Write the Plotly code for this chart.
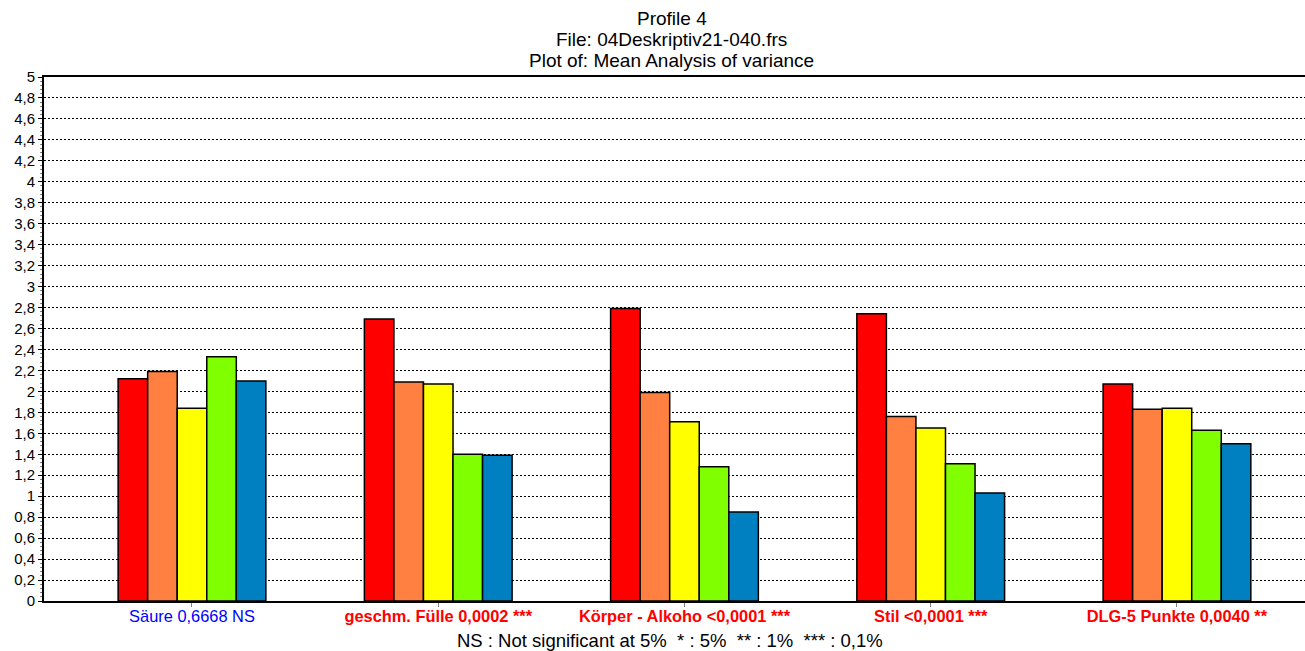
import plotly.graph_objects as go

# Attribute groups with their ANOVA p-values and significance
categories = ["Säure 0,6668 NS", "geschm. Fülle 0,0002 ***",
              "Körper - Alkoho <0,0001 ***", "Stil <0,0001 ***",
              "DLG-5 Punkte 0,0040 **"]
significant = [False, True, True, True, True]

# Mean score for each of the five products per attribute
series_names = ["Produkt 1", "Produkt 2", "Produkt 3", "Produkt 4", "Produkt 5"]
prod1 = [2.12, 2.69, 2.79, 2.74, 2.07]
prod2 = [2.19, 2.09, 1.99, 1.76, 1.83]
prod3 = [1.84, 2.07, 1.71, 1.65, 1.84]
prod4 = [2.33, 1.40, 1.28, 1.31, 1.63]
prod5 = [2.10, 1.39, 0.85, 1.03, 1.50]
series_values = [prod1, prod2, prod3, prod4, prod5]
colors = ["#FF0000", "#FF8040", "#FFFF00", "#80FF00", "#0080C0"]

title_lines = ["Profile 4", "File: 04Deskriptiv21-040.frs",
               "Plot of: Mean Analysis of variance"]
footnote = "NS : Not significant at 5%  * : 5%  ** : 1%  *** : 0,1%"

FONT = "Liberation Sans, Arial, sans-serif"
W, H = 1305, 651
M_L, M_R, M_T, M_B = 44, 0, 77, 50
plot_h = H - M_T - M_B


def paper_y(px):
    """Convert a pixel row (from the top) to paper y coordinates."""
    return (H - M_B - px) / plot_h


xpos = list(range(len(categories)))
fig = go.Figure()
for name, vals, col in zip(series_names, series_values, colors):
    fig.add_trace(go.Bar(
        x=xpos, y=vals, name=name,
        marker=dict(color=col, line=dict(color="#000000", width=1.5)),
    ))

ticktext = []
for cat, sig in zip(categories, significant):
    if sig:
        ticktext.append(f"<span style='color:#FF0000'><b>{cat}</b></span>")
    else:
        ticktext.append(f"<span style='color:#0000FF'>{cat}</span>")

fig.update_layout(
    width=W, height=H,
    margin=dict(l=M_L, r=M_R, t=M_T, b=M_B),
    paper_bgcolor="white", plot_bgcolor="white",
    barmode="group", bargap=0.4, bargroupgap=0,
    showlegend=False,
    separators=",.",
    font=dict(family=FONT, color="#000000"),
    xaxis=dict(
        range=[-0.601, 4.52],
        tickvals=xpos, ticktext=ticktext,
        tickfont=dict(family=FONT, size=16.4),
        ticks="outside", ticklen=4, tickcolor="#808080", tickwidth=1,
        ticklabelstandoff=-5,
        showgrid=False, zeroline=False,
        showline=True, linecolor="#000000", linewidth=2, mirror=True,
    ),
    yaxis=dict(
        range=[0, 5], dtick=0.2, tick0=0,
        tickfont=dict(family=FONT, size=15),
        ticks="outside", ticklen=4, tickcolor="#000000",
        showgrid=True, gridcolor="#000000", gridwidth=1, griddash="2px,2px",
        zeroline=False,
        showline=True, linecolor="#000000", linewidth=2,
        minor=dict(ticks="outside", ticklen=2, dtick=0.04, tickcolor="#808080",
                   showgrid=False),
    ),
)

# Three centred title lines above the plot
for line, row in zip(title_lines, [18, 39, 60]):
    fig.add_annotation(
        text=line, xref="paper", yref="paper", x=0.498, y=paper_y(row),
        xanchor="center", yanchor="middle", showarrow=False,
        font=dict(family=FONT, size=19, color="#000000"),
    )

# Significance legend under the axis labels
fig.add_annotation(
    text=footnote, xref="paper", yref="paper", x=0.4965, y=paper_y(640),
    xanchor="center", yanchor="middle", showarrow=False,
    font=dict(family=FONT, size=18.5, color="#000000"),
)

fig.write_html("out.html")
